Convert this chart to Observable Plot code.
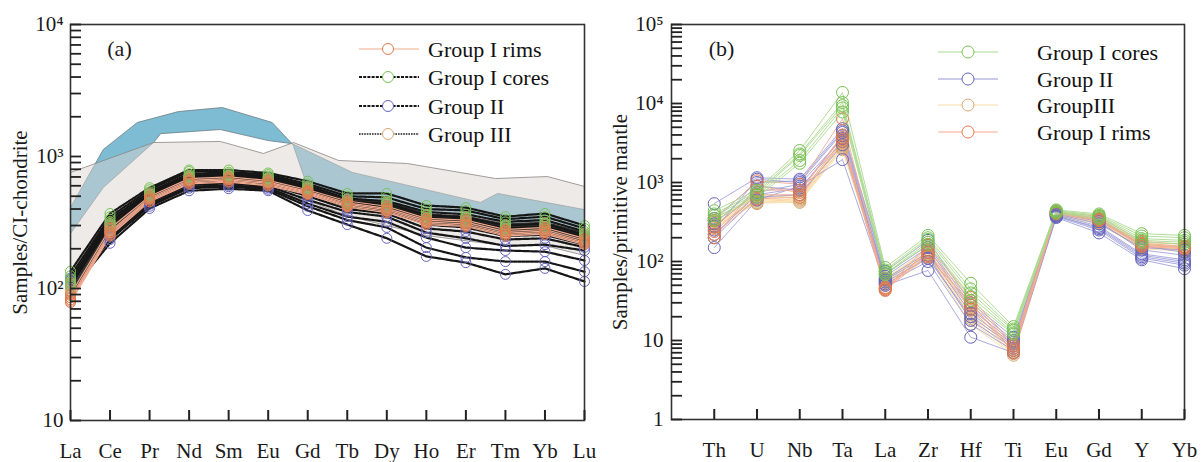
<!DOCTYPE html>
<html><head><meta charset="utf-8">
<script src="https://cdn.jsdelivr.net/npm/d3@7"></script>
<script src="https://cdn.jsdelivr.net/npm/@observablehq/plot@0.6"></script>
<style>
body{margin:0;background:#fff;}
#wrap{position:relative;width:1203px;height:462px;display:flex;font-family:"Liberation Serif","Times New Roman",Times,serif;}
#wrap svg.leg{position:absolute;pointer-events:none;overflow:visible;}
</style></head><body><div id="wrap"></div>
<script>
// ---------- categories ----------
const REE = ["La","Ce","Pr","Nd","Sm","Eu","Gd","Tb","Dy","Ho","Er","Tm","Yb","Lu"];
const TE = ["Th","U","Nb","Ta","La","Zr","Hf","Ti","Eu","Gd","Y","Yb"];

// ---------- panel (a): chondrite-normalised REE ----------
const reeCores = [
  [135,370,580,790,790,750,650,525,525,425,410,350,370,300],
  [125,350,560,770,760,730,620,500,490,400,390,335,350,285],
  [118,335,540,740,740,710,600,480,460,380,365,320,330,270],
  [110,320,520,720,720,690,580,455,440,360,345,300,310,255],
  [105,305,500,700,700,670,560,440,420,345,330,285,295,245]
];
const reeRims = [
  [90,285,500,680,700,660,560,460,420,340,330,280,290,240],
  [85,270,485,660,680,640,545,445,405,330,318,270,280,232],
  [82,262,475,645,665,625,535,435,395,320,308,262,272,225],
  [80,255,465,630,650,610,525,425,385,312,300,256,265,220],
  [78,250,455,620,640,600,515,415,375,305,295,250,258,215]
];
const reeII = [
  [95,220,404,550,570,550,390,305,240,175,157,128,142,113],
  [100,235,420,575,590,565,420,330,290,204,172,160,160,134],
  [105,245,435,590,605,580,440,350,320,243,204,194,190,163],
  [108,255,450,610,625,595,470,380,350,265,240,210,215,194],
  [112,265,470,630,645,615,500,400,370,285,270,235,240,205],
  [115,280,490,655,670,640,530,420,395,305,290,250,255,215],
  [118,295,510,690,700,670,570,450,430,340,325,280,290,235],
  [120,305,520,710,715,690,590,470,450,360,345,300,310,250]
];
const reeIII = [
  [112,320,530,720,725,690,590,470,450,365,350,305,315,262],
  [108,310,520,705,715,680,575,460,435,355,340,295,305,255],
  [104,300,510,695,705,668,565,450,425,345,332,288,296,248],
  [100,292,505,688,700,660,555,442,415,340,325,282,290,244],
  [96,285,498,680,692,652,548,436,408,335,320,277,284,238],
  [92,278,492,672,685,645,540,430,400,328,314,272,278,233],
  [88,272,485,665,678,638,532,422,392,322,308,266,272,228],
  [85,265,478,655,670,630,525,416,386,316,302,260,266,222]
];
// reference fields (element index, value)
const blueUpper = [[0,411],[0.83,1130],[1.69,1810],[2.73,2190],[3.84,2350],[5.1,1810],[5.6,1253],[7.13,757],[10.37,449],[10.8,525],[13,396]];
const blueLower = [[0,261],[0.83,582],[2.1,1275],[2.28,1490],[3.79,1600],[5.0,1320],[5.62,1250],[6,580],[7,480],[8,450],[9,380],[10,370],[11,310],[12,320],[13,280]];
const grayUpper = [[0,757],[2.1,1276],[3.79,1300],[4.88,1054],[5.64,1276],[6.78,933],[8.52,885],[10.75,681],[12.06,705],[13,593]];
const grayLower = [[0,97],[1,230],[2,425],[3,600],[4,600],[5,550],[6,464],[7,355],[8,300],[9,252],[10,230],[11,211],[12,211],[13,178]];

// ---------- panel (b): primitive-mantle-normalised ----------
const teCores = [
  [440,800,2540,13800,84,214,53,15,450,400,225,214],
  [400,760,2300,10300,78,200,45,14,440,385,210,200],
  [380,720,2200,9400,74,190,40,13.4,430,375,195,185],
  [350,690,1900,8800,70,175,36,12.5,420,360,185,175],
  [330,650,1750,7800,68,165,32,12,410,350,175,165]
];
const teII = [
  [540,1150,1100,4800,75,185,30,11,400,300,150,140],
  [150,600,900,1950,50,77,11,7,360,230,105,81],
  [250,1100,1000,4300,60,130,22,9,380,260,115,95],
  [300,900,800,3900,55,110,20,8.5,390,280,125,105],
  [280,750,950,3600,65,150,25,9.5,410,320,140,120],
  [220,700,850,3300,58,120,18,8,370,250,110,90],
  [350,1000,1050,4500,70,160,28,10,420,340,160,130],
  [200,650,700,3000,52,100,16,7.5,375,270,120,100]
];
const teIII = [
  [350,650,650,3200,62,140,24,8,400,330,165,150],
  [330,600,620,3000,58,130,22,7.5,395,320,160,145],
  [310,580,600,2800,55,125,20,7,390,315,155,140],
  [300,560,580,2600,52,120,18,6.8,385,310,150,138],
  [280,550,560,2900,50,115,16,6.5,380,300,145,135],
  [260,620,700,3400,56,150,26,8.5,405,335,170,155],
  [320,680,680,3100,60,135,21,7.8,392,325,158,148],
  [290,540,640,2700,54,110,19,7.2,388,305,150,140]
];
const teRims = [
  [330,1050,950,6400,45,160,35,9,430,370,180,165],
  [200,900,750,4000,43,140,32,8.5,420,350,170,155],
  [240,700,700,3500,47,130,28,8,410,340,160,150],
  [270,800,800,3700,46,120,25,7.5,415,345,165,152],
  [220,620,650,3300,44,115,30,7,405,330,155,145]
];

const legendA = ["Group I rims","Group I cores","Group II","Group III"];
const legendB = ["Group I cores","Group II","GroupIII","Group I rims"];

// ---------- helpers ----------
const FONT = '"Liberation Serif","Times New Roman",Times,serif';
const SUP = {2:"\u00b2",3:"\u00b3",4:"\u2074",5:"\u2075"};
const fmtPow = d => { const e = Math.round(Math.log10(d)); return e === 0 ? "1" : e === 1 ? "10" : "10" + SUP[e]; };
function logTicks(lo, hi){ const t=[]; for(let e=lo;e<hi;e++) for(let m=1;m<10;m++) t.push(+(m*Math.pow(10,e)).toPrecision(6)); t.push(Math.pow(10,hi)); return t; }
function rows(arr, group){ const out=[]; arr.forEach((s,i)=>s.forEach((v,j)=>out.push({id:group+i, group, x:j, y:v}))); return out; }
function poly(up, lo){ const p = up.concat(lo.slice().reverse()); p.push(up[0]); return p.map(([x,y])=>({x,y})); }

const C = {
  cores:{circle:"#78c154", lineB:"#a9d98c"},
  II:{circle:"#6565bd", lineB:"#9696d6"},
  III:{circle:"#d7a872", lineB:"#f7d9a6"},
  rims:{circle:"#e27a4c", lineB:"#f4aa90", lineA:"#f2a98e"}
};

// shared layout of each panel
const LA = {width:600, height:462, marginLeft:70, marginRight:16, marginTop:24, marginBottom:42,
  x:{type:"linear", domain:[0,13], axis:null, label:null}, y:{type:"log", domain:[10,1e4], axis:null, label:null}};
const LB = {width:603, height:462, marginLeft:71, marginRight:19, marginTop:24, marginBottom:43,
  x:{type:"linear", domain:[-1,11], axis:null, label:null}, y:{type:"log", domain:[1,1e5], axis:null, label:null}};
const baseStyle = {fontFamily: FONT, fontSize: "21px", color: "#1a1a1a", background: "white", overflow: "visible"};

// ---------- panel (a) ----------
const aCores = rows(reeCores,"cores"), aRims = rows(reeRims,"rims"), aII = rows(reeII,"II"), aIII = rows(reeIII,"III");
const plotA = Plot.plot({
  ...LA, style: baseStyle,
  marks: [
    Plot.line(poly(blueUpper, blueLower), {x:"x", y:"y", fill:"#7dbcd3", stroke:"#6d7c83", strokeWidth:0.8}),
    Plot.line(poly(grayUpper, grayLower), {x:"x", y:"y", fill:"#dcd3cf", fillOpacity:0.48, stroke:"#8a8583", strokeWidth:0.8}),
    Plot.line(aII, {x:"x", y:"y", z:"id", stroke:"#161616", strokeWidth:2.2, strokeDasharray:"3,1.2"}),
    Plot.line(aIII, {x:"x", y:"y", z:"id", stroke:"#333", strokeWidth:2.2, strokeDasharray:"1.6,1"}),
    Plot.line(aCores, {x:"x", y:"y", z:"id", stroke:"#161616", strokeWidth:2.2, strokeDasharray:"3,1.2"}),
    Plot.line(aRims, {x:"x", y:"y", z:"id", stroke:C.rims.lineA, strokeWidth:1.2}),
    Plot.dot(aII, {x:"x", y:"y", r:5, stroke:C.II.circle, strokeWidth:1}),
    Plot.dot(aIII, {x:"x", y:"y", r:5, stroke:C.III.circle, strokeWidth:1}),
    Plot.dot(aCores, {x:"x", y:"y", r:5, stroke:C.cores.circle, strokeWidth:1}),
    Plot.dot(aRims, {x:"x", y:"y", r:5, stroke:C.rims.circle, strokeWidth:1}),
    Plot.frame({stroke:"#333", strokeWidth:1.6}),
    Plot.axisX(d3.range(REE.length), {anchor:"bottom", tickSize:0, tickPadding:23, tickFormat:i=>REE[i], fontSize:21, label:null}),
    Plot.axisY([10,100,1000,10000], {anchor:"left", tickSize:0, tickPadding:7, tickFormat:fmtPow, fontSize:21, label:"Samples/CI-chondrite", labelAnchor:"center", labelOffset:58, labelArrow:"none"}),
    Plot.text(["(a)"], {text:d=>d, frameAnchor:"top-left", textAnchor:"middle", lineAnchor:"middle", dx:49, dy:24, fontSize:22})
  ]
});

// ---------- panel (b) ----------
const bCores = rows(teCores,"cores"), bRims = rows(teRims,"rims"), bII = rows(teII,"II"), bIII = rows(teIII,"III");
const plotB = Plot.plot({
  ...LB, style: baseStyle,
  marks: [
    Plot.line(bIII, {x:"x", y:"y", z:"id", stroke:C.III.lineB, strokeWidth:0.9}),
    Plot.line(bII, {x:"x", y:"y", z:"id", stroke:C.II.lineB, strokeWidth:0.8}),
    Plot.line(bRims, {x:"x", y:"y", z:"id", stroke:C.rims.lineB, strokeWidth:0.9}),
    Plot.line(bCores, {x:"x", y:"y", z:"id", stroke:C.cores.lineB, strokeWidth:0.9}),
    Plot.dot(bIII, {x:"x", y:"y", r:6, stroke:C.III.circle, strokeWidth:1}),
    Plot.dot(bII, {x:"x", y:"y", r:6, stroke:C.II.circle, strokeWidth:1}),
    Plot.dot(bRims, {x:"x", y:"y", r:6, stroke:C.rims.circle, strokeWidth:1}),
    Plot.dot(bCores, {x:"x", y:"y", r:6, stroke:C.cores.circle, strokeWidth:1}),
    Plot.frame({stroke:"#333", strokeWidth:1.6}),
    Plot.axisX(d3.range(TE.length), {anchor:"bottom", tickSize:0, tickPadding:23, tickFormat:i=>TE[i], fontSize:21, label:null}),
    Plot.axisY([1,10,100,1000,10000,100000], {anchor:"left", tickSize:0, tickPadding:8, tickFormat:fmtPow, fontSize:21, label:"Samples/primitive mantle", labelAnchor:"center", labelOffset:59, labelArrow:"none"}),
    Plot.text(["(b)"], {text:d=>d, frameAnchor:"top-left", textAnchor:"middle", lineAnchor:"middle", dx:50, dy:24, fontSize:22})
  ]
});

const wrap = document.getElementById("wrap");
wrap.append(plotA, plotB);

// ---------- inward tick marks: transparent Plot overlays sharing each panel's scales ----------
function tickOverlay(L, left, xVals, yVals){
  const w = L.width - L.marginLeft - L.marginRight, h = L.height - L.marginTop - L.marginBottom;
  const p = Plot.plot({
    ...L, style: {background: "transparent", overflow: "visible"},
    marks: [
      Plot.tickX(xVals, {x:d=>d, insetTop:h-10, stroke:"#222", strokeWidth:2}),
      Plot.tickY(yVals, {y:d=>d, insetRight:w-11, stroke:"#222", strokeWidth:1.8})
    ]
  });
  p.style.position = "absolute"; p.style.left = left + "px"; p.style.top = "0px"; p.style.pointerEvents = "none";
  wrap.appendChild(p);
}
tickOverlay(LA, 0, d3.range(REE.length), logTicks(1,4));
tickOverlay(LB, 600, d3.range(TE.length), logTicks(0,5));

// ---------- legends (small SVG overlays) ----------
function legend(labels, styles, left, top, x0, x1, xc, xt, ys, r){
  const ns = "http://www.w3.org/2000/svg";
  const svg = document.createElementNS(ns, "svg");
  svg.setAttribute("class","leg"); svg.setAttribute("width",240); svg.setAttribute("height",110);
  svg.style.left = left + "px"; svg.style.top = top + "px";
  labels.forEach((lab,i)=>{
    const s = styles[i], y = ys[i] - top;
    const ln = document.createElementNS(ns,"line");
    ln.setAttribute("x1",x0-left); ln.setAttribute("x2",x1-left); ln.setAttribute("y1",y); ln.setAttribute("y2",y);
    ln.setAttribute("stroke",s.line); ln.setAttribute("stroke-width",s.w);
    if (s.dash) ln.setAttribute("stroke-dasharray",s.dash);
    svg.appendChild(ln);
    const c = document.createElementNS(ns,"circle");
    c.setAttribute("cx",xc-left); c.setAttribute("cy",y); c.setAttribute("r",r);
    c.setAttribute("fill","white"); c.setAttribute("stroke",s.circle); c.setAttribute("stroke-width",1);
    svg.appendChild(c);
    const t = document.createElementNS(ns,"text");
    t.setAttribute("x",xt-left); t.setAttribute("y",y); t.setAttribute("dy","0.35em");
    t.setAttribute("font-size","22px"); t.setAttribute("font-family",FONT); t.setAttribute("fill","#111");
    t.textContent = lab;
    svg.appendChild(t);
  });
  wrap.appendChild(svg);
}
legend(legendA,
  [{line:C.rims.lineA,w:1.2,circle:C.rims.circle},
   {line:"#161616",w:2,dash:"3,1.2",circle:C.cores.circle},
   {line:"#161616",w:2,dash:"3,1.2",circle:C.II.circle},
   {line:"#555",w:2,dash:"1.6,1",circle:C.III.circle}],
  350, 34, 359, 419, 388, 428, [49,77,106,134], 5.5);
legend(legendB,
  [{line:C.cores.lineB,w:1,circle:C.cores.circle},
   {line:C.II.lineB,w:1,circle:C.II.circle},
   {line:C.III.lineB,w:1,circle:C.III.circle},
   {line:C.rims.lineB,w:1.2,circle:C.rims.circle}],
  930, 37, 938, 998, 968, 1037, [52,79,105,132], 6);
</script></body></html>
